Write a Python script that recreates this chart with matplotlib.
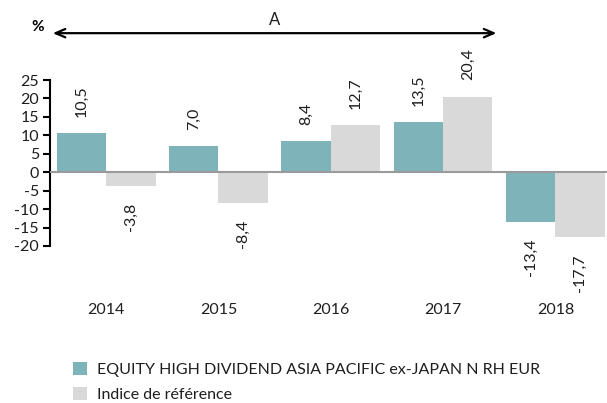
import matplotlib
matplotlib.use("Agg")
import matplotlib.pyplot as plt
from matplotlib.patches import Patch
import numpy as np

plt.rcParams['font.family'] = ['Lato', 'DejaVu Sans']

years = ["2014", "2015", "2016", "2017", "2018"]
fund = [10.5, 7.0, 8.4, 13.5, -13.4]
index = [-3.8, -8.4, 12.7, 20.4, -17.7]
fund_name = "EQUITY HIGH DIVIDEND ASIA PACIFIC ex-JAPAN N RH EUR"
index_name = "Indice de référence"

teal = "#7FB3BA"
grey = "#D9D9D9"
txt = "#1e1e1e"

W, H = 607, 403
fig = plt.figure(figsize=(W / 100, H / 100), dpi=100)
ax_left, ax_right, ax_top, ax_bot = 50, 607, 80, 295
ax = fig.add_axes([ax_left / W, (H - ax_bot) / H, (ax_right - ax_left) / W, (ax_bot - ax_top) / H])

x = np.arange(len(years))
bw = 0.44
ax.bar(x - bw / 2, fund, bw, color=teal, zorder=2)
ax.bar(x + bw / 2, index, bw, color=grey, zorder=2)
ax.axhline(0, color="#9a9a9a", lw=1.5, zorder=3)

ax.set_xlim(-0.5, 4.46)
ax.set_ylim(-33.3, 25)

def fmt(v):
    return f"{v:.1f}".replace(".", ",")

off = 4.5
for xs, vals in ((x - bw / 2, fund), (x + bw / 2, index)):
    for xi, v in zip(xs, vals):
        if v >= 0:
            ax.text(xi, v + off, fmt(v), rotation=90, ha="center", va="bottom",
                    fontsize=11.5, color=txt, clip_on=False)
        else:
            ax.text(xi, v - off, fmt(v), rotation=90, ha="center", va="top",
                    fontsize=11.5, color=txt, clip_on=False)

for s in ["top", "right", "bottom"]:
    ax.spines[s].set_visible(False)
ax.spines["left"].set_bounds(-20, 25)
ax.spines["left"].set_linewidth(1.5)
ax.set_yticks(np.arange(-20, 26, 5))
ax.set_yticklabels([str(v) for v in range(-20, 26, 5)])
ax.tick_params(axis="y", length=5, width=1.5, labelsize=11.5, pad=3, colors="black", labelcolor=txt)
ax.set_xticks(x)
ax.set_xticklabels(years)
ax.tick_params(axis="x", length=0, labelsize=11.5, pad=6, labelcolor=txt)

# arrow annotation
ax.annotate("", xy=(-0.5, 37.7), xytext=(3.5, 37.7),
            arrowprops=dict(arrowstyle="<->,head_length=0.7,head_width=0.3", lw=1.6, color="black"),
            annotation_clip=False)
ax.text(1.5, 41.3, "A", ha="center", va="center", fontsize=12, color=txt, clip_on=False)
fig.text(38 / W, 1 - 27 / H, "%", ha="center", va="center", fontsize=11, fontweight="bold")

handles = [Patch(facecolor=teal, edgecolor="none"), Patch(facecolor=grey, edgecolor="none")]
leg = fig.legend(handles, [fund_name, index_name], loc="upper left",
                 bbox_to_anchor=(73 / W, 1 - 362 / H), frameon=False, fontsize=11.5,
                 handlelength=0.85, handleheight=0.85, handletextpad=0.65, labelspacing=0.62,
                 borderaxespad=0, borderpad=0)
for t in leg.get_texts():
    t.set_color(txt)

fig.savefig("out.png", dpi=100)
